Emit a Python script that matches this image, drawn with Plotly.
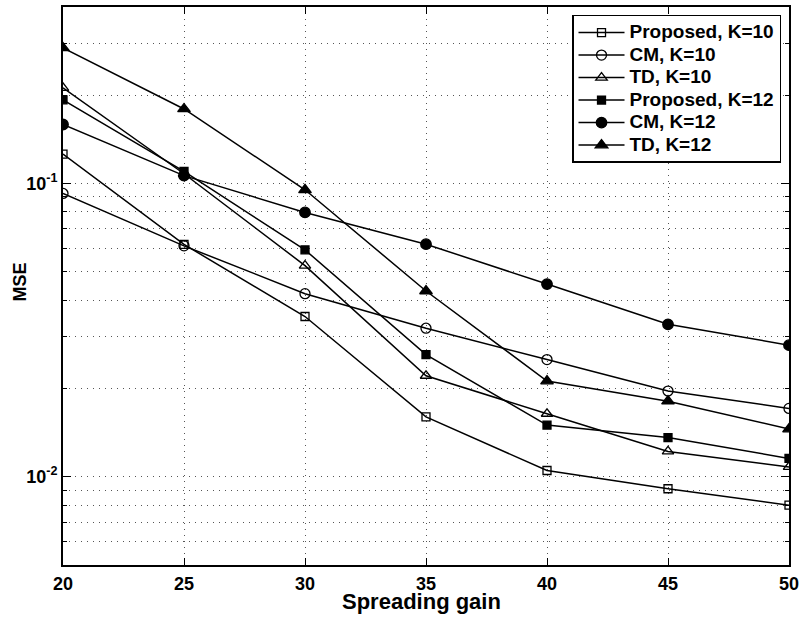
import plotly.graph_objects as go

spreading_gain = [20, 25, 30, 35, 40, 45, 50]

proposed_k10 = [0.126, 0.062, 0.0352, 0.0160, 0.0105, 0.0091, 0.0080]
cm_k10 = [0.0925, 0.0613, 0.0421, 0.0321, 0.0251, 0.0196, 0.0171]
td_k10 = [0.212, 0.108, 0.0525, 0.0221, 0.0164, 0.0122, 0.0108]
proposed_k12 = [0.193, 0.110, 0.0594, 0.0261, 0.0150, 0.0136, 0.01155]
cm_k12 = [0.159, 0.1064, 0.0797, 0.0621, 0.0454, 0.0331, 0.0281]
td_k12 = [0.290, 0.1796, 0.0952, 0.0430, 0.0212, 0.0181, 0.01454]

series_names = ["Proposed, K=10", "CM, K=10", "TD, K=10",
                "Proposed, K=12", "CM, K=12", "TD, K=12"]
series_values = [proposed_k10, cm_k10, td_k10, proposed_k12, cm_k12, td_k12]
series_symbols = ["square-open", "circle-open", "triangle-up-open",
                  "square", "circle", "triangle-up"]
series_sizes = [8, 10, 10, 8, 10.5, 11]

x_ticks = [20, 25, 30, 35, 40, 45, 50]
y_ticks = [0.01, 0.1]
y_ticktext = ["10<sup>-2</sup>", "10<sup>-1</sup>"]
y_minor = [0.006, 0.007, 0.008, 0.009, 0.02, 0.03, 0.04, 0.05, 0.06,
           0.07, 0.08, 0.09, 0.2, 0.3]

x_title = "Spreading gain"
y_title = "MSE"

FONT = "Liberation Sans, Arial, Helvetica, sans-serif"

fig = go.Figure()
for name, vals, sym, sz in zip(series_names, series_values, series_symbols, series_sizes):
    fig.add_trace(go.Scatter(
        x=spreading_gain, y=vals, mode="lines+markers",
        name="<span style='font-size:19px'>" + name + "</span>",
        line=dict(color="black", width=1.5),
        marker=dict(symbol=sym, size=sz, color="black",
                    line=dict(color="black", width=1.3)),
    ))

grid_color = "#555555"
grid_dash = "1px,5px"

fig.update_layout(
    width=804, height=619,
    margin=dict(l=63, r=11, t=5, b=54),
    paper_bgcolor="white", plot_bgcolor="white",
    font=dict(family=FONT, color="black"),
    showlegend=True,
    legend=dict(
        x=0.989, y=0.986, xanchor="right", yanchor="top",
        bgcolor="white", bordercolor="black", borderwidth=1.5,
        font=dict(family=FONT, size=15, color="black", weight="bold"),
        itemwidth=46, tracegroupgap=0,
    ),
    xaxis=dict(
        range=[20, 50], tickvals=x_ticks,
        ticks="inside", ticklen=7, tickwidth=1.2, tickcolor="black",
        showline=True, linecolor="black", linewidth=2, mirror="ticks",
        showgrid=True, gridcolor=grid_color, gridwidth=1, griddash=grid_dash,
        zeroline=False, ticklabelstandoff=1,
        tickfont=dict(family=FONT, size=18, color="black", weight="bold"),
    ),
    yaxis=dict(
        type="log", range=[-2.30103, -0.39794],
        tickvals=y_ticks, ticktext=y_ticktext,
        ticks="inside", ticklen=8, tickwidth=1.2, tickcolor="black",
        showline=True, linecolor="black", linewidth=2, mirror="ticks",
        showgrid=True, gridcolor=grid_color, gridwidth=1, griddash=grid_dash,
        zeroline=False,
        minor=dict(tickvals=y_minor, ticks="inside", ticklen=4, tickwidth=1,
                   tickcolor="black", showgrid=True, gridcolor=grid_color,
                   gridwidth=1, griddash=grid_dash),
        tickfont=dict(family=FONT, size=18, color="black", weight="bold"),
    ),
    annotations=[
        dict(text=x_title, xref="paper", yref="paper", x=0.4932, y=0,
             xanchor="center", yanchor="middle", yshift=-36, showarrow=False,
             font=dict(family=FONT, size=22, color="black", weight="bold")),
        dict(text=y_title, xref="paper", yref="paper", x=0, y=0.5,
             xanchor="center", yanchor="middle", xshift=-43.5, yshift=4,
             textangle=-90, showarrow=False,
             font=dict(family=FONT, size=18, color="black", weight="bold")),
    ],
)

fig.write_html("out.html")
